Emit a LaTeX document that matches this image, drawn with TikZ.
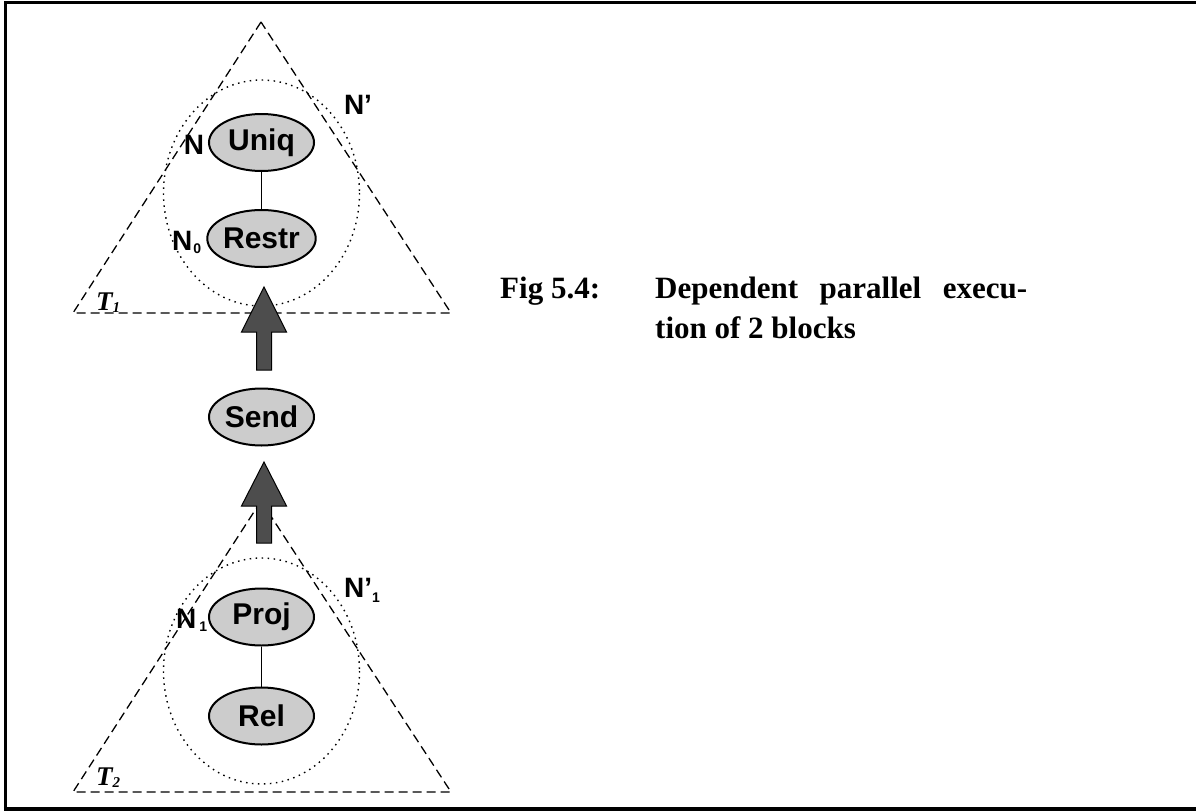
\documentclass[tikz,border=0pt]{standalone}
\usepackage{fontspec}
\setmainfont{Liberation Serif}
\setsansfont{Liberation Sans}
\usetikzlibrary{shapes.geometric}
\definecolor{opfill}{HTML}{CCCCCC}
\definecolor{flowfill}{HTML}{4D4D4D}
\begin{document}
\begin{tikzpicture}[x=1pt,y=-1pt,
  opnode/.style={ellipse,draw=black,line width=2pt,fill=opfill,
    minimum width=105pt,minimum height=57pt,inner sep=0pt,
    font=\sffamily\bfseries\fontsize{30}{30}\selectfont},
  treeline/.style={dash pattern=on 9pt off 5pt,line width=1.3pt},
  blockline/.style={dash pattern=on 1.5pt off 4.5pt,line width=1.4pt},
  link/.style={line width=1.3pt},
  flowarrow/.style={fill=flowfill,draw=black,line width=1pt,line join=miter},
  lbl/.style={inner sep=0pt,font=\sffamily\bfseries\fontsize{28}{28}\selectfont},
  tlbl/.style={inner sep=0pt,font=\bfseries\itshape\fontsize{27}{27}\selectfont},
  caption/.style={inner sep=0pt,anchor=base west,font=\bfseries\fontsize{31}{31}\selectfont}]
\useasboundingbox (0,0) rectangle (1196,811);

% frame: open on the right
\draw[line width=3.5pt] (1196,2.5) -- (5.5,2.5) -- (5.5,807);
\draw[line width=4.5pt] (3.75,808.75) -- (1196,808.75);

% upper tree T1
\draw[treeline] (261,22) -- (73,313) -- (451,313) -- cycle;
\draw[blockline] (261.5,193) ellipse [x radius=98, y radius=113];
\node[opnode] (uniq) at (261.5,142.5) {Uniq};
\node[opnode] (restr) at (261.5,238.5) {Restr};
\draw[link] (uniq) -- (restr);

% lower tree T2
\draw[treeline] (261,501) -- (73,792) -- (451,792) -- cycle;
\draw[blockline] (261.5,671) ellipse [x radius=98, y radius=113];
\node[opnode] (proj) at (261.5,617) {Proj};
\node[opnode] (rel) at (261.5,716) {Rel};
\draw[link] (proj) -- (rel);

% sending operator between the blocks
\node[opnode] (send) at (261.5,417) {Send};

% block arrows
\coordinate (a1) at (264,287);
\coordinate (a2) at (264,462);
\draw[flowarrow] (a1) -- ++(22.5,45) -- ++(-15,0) -- ++(0,38) -- ++(-15,0) -- ++(0,-38) -- ++(-15,0) -- cycle;
\draw[flowarrow] (a2) -- ++(22.5,44) -- ++(-15,0) -- ++(0,37) -- ++(-15,0) -- ++(0,-37) -- ++(-15,0) -- cycle;

% labels
\node[lbl] (lN) at (194,145) {N};
\node[lbl] (lNp) at (358,105) {N’};
\node[lbl,anchor=base west] (lN0) at (172,250) {N\kern1pt\raisebox{-3pt}{\fontsize{14}{14}\selectfont 0}};
\node[lbl,anchor=base west] (lN1) at (176,628) {N\kern3pt\raisebox{-3pt}{\fontsize{14}{14}\selectfont 1}};
\node[lbl,anchor=base west] (lNp1) at (344,597) {N’\raisebox{-5pt}{\fontsize{14}{14}\selectfont 1}};
\node[tlbl,anchor=base west] (lT1) at (96,310) {T\raisebox{-2pt}{\fontsize{15}{15}\selectfont 1}};
\node[tlbl,anchor=base west] (lT2) at (96,785) {T\raisebox{-2pt}{\fontsize{15}{15}\selectfont 2}};

% caption
\node[caption] (fig) at (500,298) {Fig 5.4:};
\node[caption] (cap1) at (655,298) {\makebox[372pt][s]{Dependent parallel execu-}};
\node[caption] (cap2) at (655,338) {tion of 2 blocks};
\end{tikzpicture}
\end{document}
